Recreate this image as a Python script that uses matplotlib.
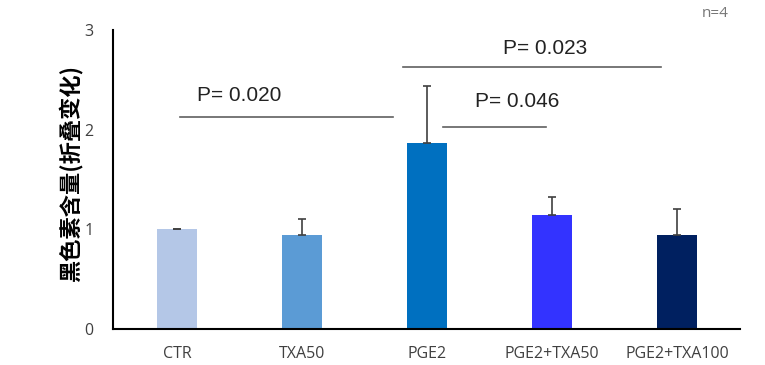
import matplotlib
matplotlib.use("Agg")
import matplotlib.pyplot as plt

categories = ["CTR", "TXA50", "PGE2", "PGE2+TXA50", "PGE2+TXA100"]
values = [1.00, 0.94, 1.87, 1.14, 0.94]
errors = [0.005, 0.16, 0.57, 0.18, 0.26]
colors = ["#b4c7e7", "#5b9bd5", "#0070c0", "#3333ff", "#002060"]
ylabel = "黑色素含量(折叠变化)"
pvals = ["P= 0.020", "P= 0.023", "P= 0.046"]

plt.rcParams['font.family'] = ['Noto Sans CJK SC', 'DejaVu Sans']

fig = plt.figure(figsize=(7.65, 3.65), dpi=100)
ax = fig.add_axes([0.148, 0.0986, 0.819, 0.8196])
x = list(range(len(categories)))
ax.bar(x, values, width=0.32, color=colors, zorder=2)
ax.errorbar(x, values, yerr=[[0]*len(errors), errors], fmt='none',
            ecolor="#404040", elinewidth=1.2, capsize=3, capthick=1.2, zorder=3)

ax.set_xlim(-0.51, 4.5)
ax.set_ylim(0, 3)
ax.set_yticks([0, 1, 2, 3])
ax.set_xticks(x)
ax.set_xticklabels(categories, fontsize=11.5, color="#333333", family=['Open Sans'])
for lab in ax.get_yticklabels():
    lab.set_family(['Open Sans'])
ax.tick_params(axis='both', length=0, colors="#404040")
ax.tick_params(axis='x', pad=12, labelsize=11.5)
ax.tick_params(axis='y', pad=14, labelsize=11.5)
for s in ["top", "right"]:
    ax.spines[s].set_visible(False)
for s in ["left", "bottom"]:
    ax.spines[s].set_linewidth(1.5)
    ax.spines[s].set_color("#000000")
ax.set_ylabel(ylabel, fontsize=16, fontweight='bold')
ax.yaxis.set_label_coords(-0.049, 0.52)

# significance lines
lc = "#606060"
tf = dict(fontsize=15, ha='center', va='bottom', color="#222222", family=['Liberation Sans'])
ax.plot([0.02, 1.73], [2.13, 2.13], color=lc, lw=1.2)
ax.text(0.5, 2.25, pvals[0], **tf)
ax.plot([1.81, 3.87], [2.63, 2.63], color=lc, lw=1.2)
ax.text(2.94, 2.72, pvals[1], **tf)
ax.plot([2.13, 2.95], [2.03, 2.03], color=lc, lw=1.2)
ax.text(2.72, 2.19, pvals[2], **tf)

fig.text(0.935, 0.962, "n=4", fontsize=11, color="#777777", ha='center', va='center',
         family=['Open Sans'])

fig.savefig("out.png", dpi=100)
